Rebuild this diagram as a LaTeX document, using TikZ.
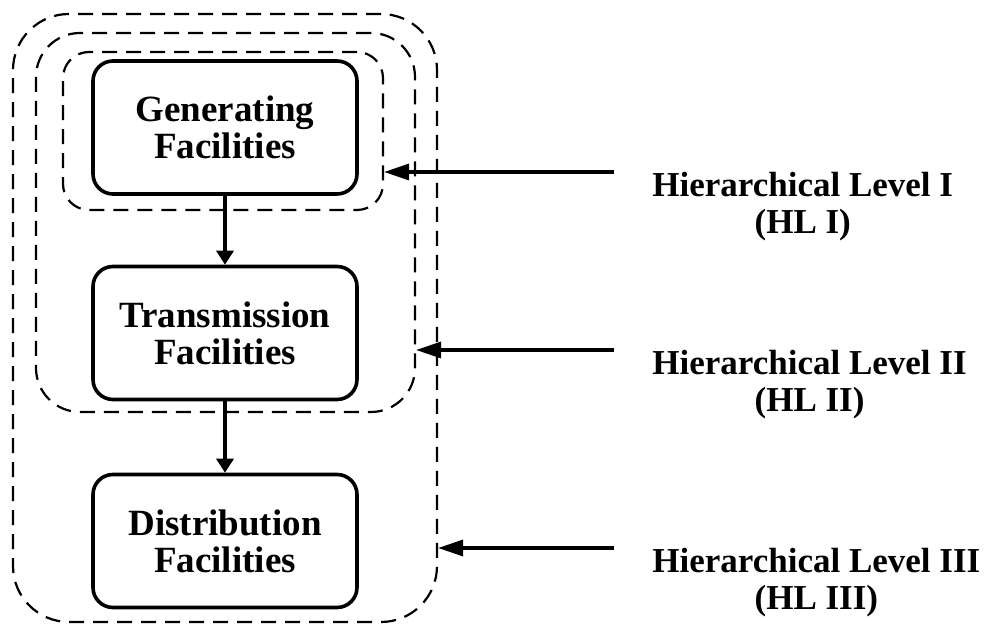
\documentclass[tikz,border=0pt]{standalone}
\usepackage{fontspec}
\setmainfont{Liberation Serif}
\usetikzlibrary{arrows.meta,fit}
\newcommand{\boxWidth}{132pt}
\newcommand{\boxHeight}{66.5pt}
\newcommand{\labelX}{652}
\tikzset{
  facility/.style={draw, line width=1.8pt, rounded corners=10pt,
    minimum width=\boxWidth, minimum height=\boxHeight, align=center,
    font=\fontsize{18.5pt}{18.5pt}\selectfont\bfseries},
  hlevel/.style={draw, line width=1.1pt, dash pattern=on 7.5pt off 4.5pt, inner sep=0pt},
  flow/.style={-{Triangle[length=7pt,width=8.5pt]}, line width=1.7pt},
  pointer/.style={-{Triangle[length=12.5pt,width=8pt]}, line width=1.7pt},
  levelname/.style={anchor=north west, inner sep=0pt, align=center,
    font=\fontsize{17.5pt}{18.5pt}\selectfont\bfseries}
}
\begin{document}
\begin{tikzpicture}[x=0.5pt, y=-0.5pt]
      \useasboundingbox (0,0) rectangle (985,624);
      % facilities
      \node [facility] (gen) at (225,127.5) {Generating\\Facilities};
      \node [facility] (trans) at (225,333) {Transmission\\Facilities};
      \node [facility] (dist) at (225,541) {Distribution\\Facilities};
      \draw [flow] (gen) -- (trans);
      \draw [flow] (trans) -- (dist);

      % hierarchical levels
      \node [hlevel, rounded corners=13pt, fit={(63,52) (383,210)}] (hlone) {};
      \node [hlevel, rounded corners=22pt, fit={(36,33) (415,412)}] (hltwo) {};
      \node [hlevel, rounded corners=28pt, fit={(13,14) (437,622)}] (hlthree) {};

      \coordinate (pone) at (614,172);
      \coordinate (ptwo) at (614,350);
      \coordinate (pthree) at (614,548);
      \draw [pointer] (pone) -- (hlone.east |- pone);
      \draw [pointer] (ptwo) -- (hltwo.east |- ptwo);
      \draw [pointer] (pthree) -- (hlthree.east |- pthree);

      \node [levelname] (nameone) at (\labelX,172) {Hierarchical Level I\\(HL I)};
      \node [levelname] (nametwo) at (\labelX,350) {Hierarchical Level II\\(HL II)};
      \node [levelname] (namethree) at (\labelX,548) {Hierarchical Level III\\(HL III)};
\end{tikzpicture}
\end{document}
